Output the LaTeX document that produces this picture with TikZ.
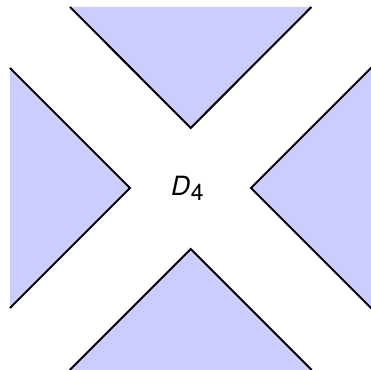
\documentclass[tikz,border=0pt]{standalone}
\usepackage{fontspec}
\setsansfont{TeX Gyre Heros}
\definecolor{triblue}{HTML}{CCCCFF}
\tikzset{
  tri/.style={fill=triblue, draw=none},
  edge/.style={draw=black, line width=2pt, line join=miter, line cap=butt},
  lbl/.style={inner sep=0pt, font=\sffamily\fontsize{26.5}{30}\selectfont}
}
\begin{document}
\begin{tikzpicture}[x=1pt,y=1pt]
\useasboundingbox (0,0) rectangle (371,369);
\begin{scope}
\clip (0,0) rectangle (371,369);
% top
\coordinate (t1) at (70,362); \coordinate (ta) at (190.7,241); \coordinate (t2) at (311.4,362);
\fill[tri] (t1) -- (ta) -- (t2) -- cycle;
\draw[edge] (t1) -- (ta) -- (t2);
% left
\coordinate (l1) at (10,301); \coordinate (la) at (130,181); \coordinate (l2) at (10,61);
\fill[tri] (l1) -- (la) -- (l2) -- cycle;
\draw[edge] (l1) -- (la) -- (l2);
% bottom
\coordinate (b1) at (69.7,-1); \coordinate (ba) at (190.7,120); \coordinate (b2) at (311.7,-1);
\fill[tri] (b1) -- (ba) -- (b2) -- cycle;
\draw[edge] (b1) -- (ba) -- (b2);
% right
\coordinate (r1) at (372,302); \coordinate (ra) at (251,181); \coordinate (r2) at (372,60);
\fill[tri] (r1) -- (ra) -- (r2) -- cycle;
\draw[edge] (r1) -- (ra) -- (r2);
\end{scope}
\node[lbl, anchor=base west] (d4) at (171,173) {\itshape D\kern0.5pt\raisebox{-5pt}{\upshape\fontsize{23}{26}\selectfont 4}};
\end{tikzpicture}
\end{document}
